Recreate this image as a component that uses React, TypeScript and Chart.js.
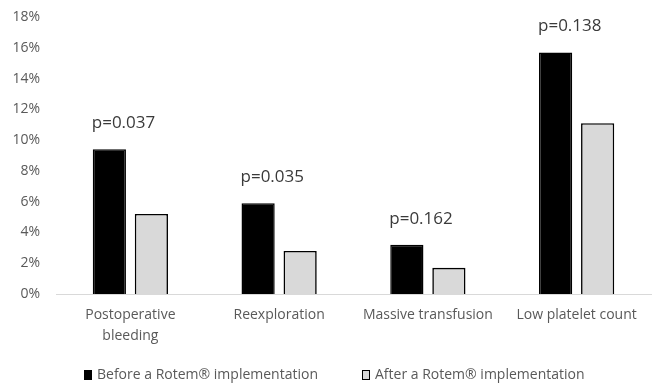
import React, { useEffect, useRef } from "react";
import { Chart, registerables } from "chart.js";

Chart.register(...registerables);

const categories: (string | string[])[] = [
  ["Postoperative", "bleeding"],
  "Reexploration",
  "Massive transfusion",
  "Low platelet count",
];
const beforeValues = [9.4, 5.9, 3.2, 15.7];
const afterValues = [5.2, 2.8, 1.7, 11.1];
const pValues = ["p=0.037", "p=0.035", "p=0.162", "p=0.138"];
const seriesLabels = ["Before a Rotem® implementation", "After a Rotem® implementation"];
const yMax = 18;
const yStep = 2;

const FONT = "'Open Sans', 'DejaVu Sans', sans-serif";
const TEXT_GREY = "#595959";

const pValuePlugin = {
  id: "pValueLabels",
  afterDatasetsDraw(chart: any) {
    const meta = chart.getDatasetMeta(0);
    const ctx = chart.ctx;
    ctx.save();
    ctx.font = `17px ${FONT}`;
    ctx.fillStyle = "#3a3a3a";
    ctx.textAlign = "left";
    ctx.textBaseline = "middle";
    meta.data.forEach((el: any, i: number) => {
      const x = el.x - el.width / 2;
      ctx.fillText(pValues[i], x - 1, el.y - 26);
    });
    ctx.restore();
  },
};

const legendPlugin = {
  id: "customLegend",
  afterDraw(chart: any) {
    const ctx = chart.ctx;
    ctx.save();
    ctx.font = `14px ${FONT}`;
    ctx.textBaseline = "middle";
    ctx.textAlign = "left";
    const yCenter = 375;
    const boxW = 8;
    const boxH = 10;
    const gap = 5;
    const itemGap = 44;
    let x = 84;
    chart.data.datasets.forEach((ds: any) => {
      ctx.fillStyle = ds.backgroundColor;
      ctx.fillRect(x, yCenter - boxH / 2, boxW, boxH);
      ctx.strokeStyle = "#000";
      ctx.lineWidth = 1;
      ctx.strokeRect(x + 0.5, yCenter - boxH / 2 + 0.5, boxW - 1, boxH - 1);
      x += boxW + gap;
      ctx.fillStyle = TEXT_GREY;
      ctx.fillText(ds.label, x, yCenter);
      x += ctx.measureText(ds.label).width + itemGap;
    });
    ctx.restore();
  },
};

export default function App() {
  const canvasRef = useRef<HTMLCanvasElement | null>(null);

  useEffect(() => {
    if (!canvasRef.current) return;
    const chart = new Chart(canvasRef.current, {
      type: "bar",
      data: {
        labels: categories,
        datasets: [
          {
            label: seriesLabels[0],
            data: beforeValues,
            backgroundColor: "#000000",
            borderColor: "#000000",
            borderWidth: 1.5,
            barPercentage: 0.79,
            categoryPercentage: 0.565,
          },
          {
            label: seriesLabels[1],
            data: afterValues,
            backgroundColor: "#d9d9d9",
            borderColor: "#000000",
            borderWidth: 1.6,
            barPercentage: 0.79,
            categoryPercentage: 0.565,
          },
        ],
      },
      options: {
        responsive: false,
        animation: false,
        devicePixelRatio: 1,
        layout: { padding: { top: 17, right: 10, left: 0, bottom: 0 } },
        plugins: {
          legend: { display: false },
          tooltip: { enabled: false },
        },
        scales: {
          x: {
            grid: { display: false, drawTicks: false },
            border: { display: true, color: "#d9d9d9", width: 1 },
            ticks: {
              color: TEXT_GREY,
              font: { family: FONT, size: 14, lineHeight: 1.5 },
              padding: 11,
              maxRotation: 0,
              autoSkip: false,
            },
            afterFit: (scale: any) => {
              scale.height = 89;
            },
          },
          y: {
            min: 0,
            max: yMax,
            grid: { display: false, drawTicks: true, tickLength: 15 },
            border: { display: false },
            ticks: {
              stepSize: yStep,
              color: TEXT_GREY,
              font: { family: FONT, size: 14 },
              padding: 1,
              callback: (v: any) => `${v}%`,
            },
            afterFit: (scale: any) => {
              scale.width = 56;
            },
          },
        },
      },
      plugins: [pValuePlugin, legendPlugin],
    });
    return () => chart.destroy();
  }, []);

  return (
    <div style={{ position: "absolute", left: 0, top: 0, width: 661, height: 383, background: "#fff" }}>
      <canvas ref={canvasRef} width={661} height={383} style={{ display: "block" }} />
    </div>
  );
}
